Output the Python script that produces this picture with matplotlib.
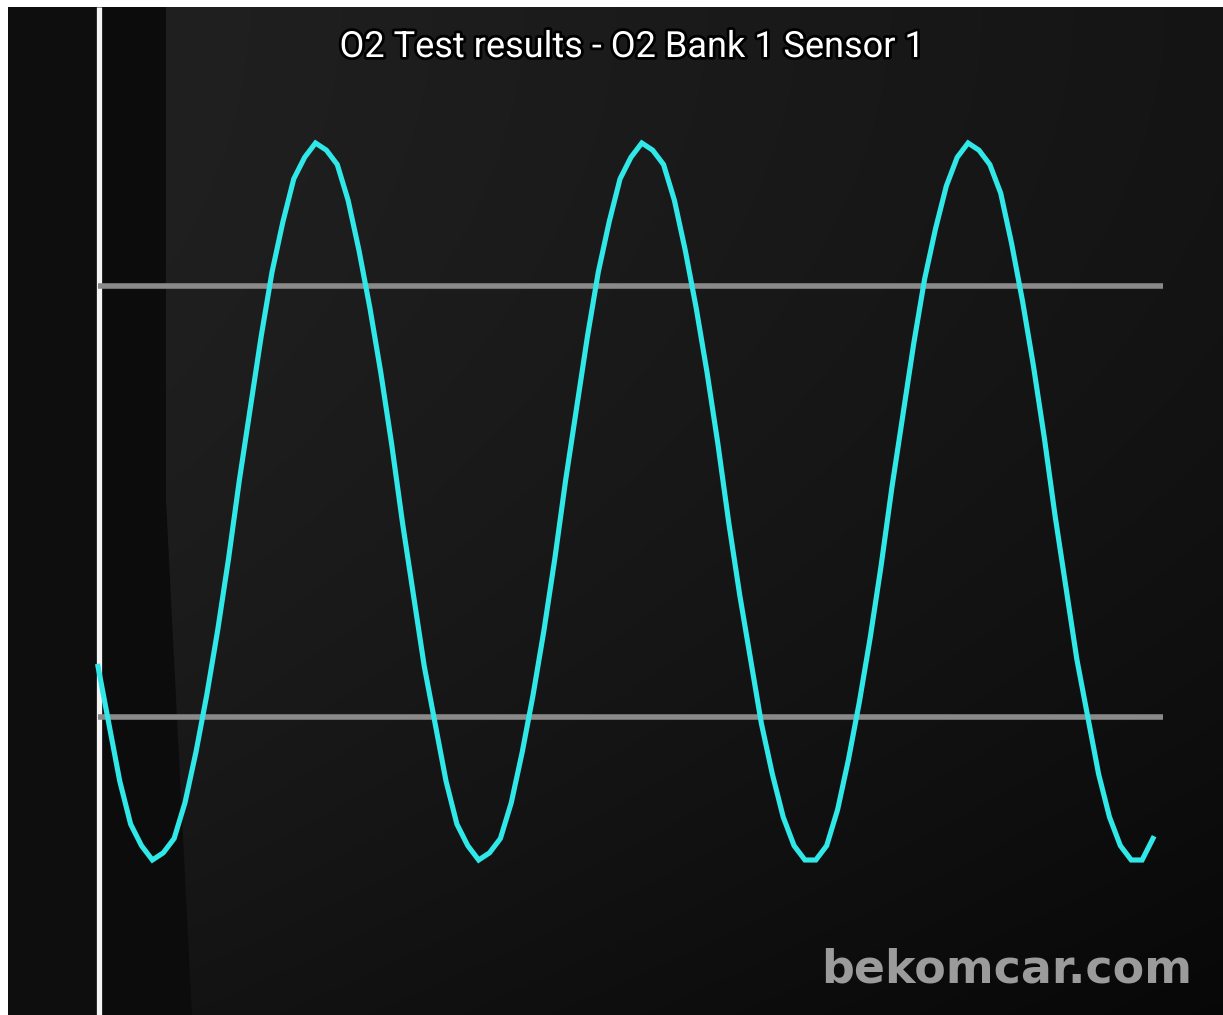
import numpy as np
import matplotlib
matplotlib.use("Agg")
import matplotlib.pyplot as plt
import matplotlib.patheffects as pe
from matplotlib.patches import Polygon, Rectangle

# ---- data (O2 sensor voltage) ----
sample_index = list(range(98))
voltage = [
    0.27, 0.19, 0.11, 0.05, 0.02, 0.00, 0.01, 0.03, 0.08, 0.15,
    0.23, 0.32, 0.42, 0.53, 0.63, 0.73, 0.82, 0.89, 0.95, 0.98,
    1.00, 0.99, 0.97, 0.92, 0.85, 0.77, 0.68, 0.58, 0.47, 0.37,
    0.27, 0.19, 0.11, 0.05, 0.02, 0.00, 0.01, 0.03, 0.08, 0.15,
    0.23, 0.32, 0.42, 0.53, 0.63, 0.73, 0.82, 0.89, 0.95, 0.98,
    1.00, 0.99, 0.97, 0.92, 0.85, 0.77, 0.68, 0.58, 0.47, 0.37,
    0.28, 0.19, 0.12, 0.06, 0.02, 0.00, 0.00, 0.02, 0.07, 0.14,
    0.22, 0.31, 0.41, 0.52, 0.62, 0.72, 0.81, 0.88, 0.94, 0.98,
    1.00, 0.99, 0.97, 0.93, 0.86, 0.78, 0.69, 0.59, 0.48, 0.38,
    0.28, 0.20, 0.12, 0.06, 0.02, 0.00, 0.00, 0.03,
]
threshold_levels = [0.2, 0.8]
title = "O2 Test results - O2 Bank 1 Sensor 1"
watermark = "bekomcar.com"

W, H = 1223, 1015
fig = plt.figure(figsize=(W / 100, H / 100), dpi=100)
fig.patch.set_facecolor("white")

# ---- background axes in pixel coordinates ----
bg = fig.add_axes([0, 0, 1, 1])
bg.set_xlim(0, W)
bg.set_ylim(H, 0)
bg.axis("off")

xx, yy = np.meshgrid(np.arange(W), np.arange(H))
val = 0.125 - 0.045 * np.clip(xx - 170, 0, None) / 1050 - 0.05 * (yy / H) ** 2
img = np.dstack([val, val, val])
bg.imshow(img, extent=(0, W, H, 0), aspect="auto", zorder=0, interpolation="bilinear")

# dark strips on the left
bg.add_patch(Rectangle((0, 0), 97, H, color="#0e0e0e", zorder=1, lw=0))
bg.add_patch(Polygon([(100, 0), (166, 0), (166, 500), (192, H), (100, H)],
                     closed=True, color="#0c0c0c", zorder=1, lw=0))
# white margins (top and left)
bg.add_patch(Rectangle((0, 0), W, 7, color="white", zorder=2, lw=0))
bg.add_patch(Rectangle((0, 0), 8, H, color="white", zorder=2, lw=0))
# white vertical cursor line
bg.plot([98.5, 98.5], [7, H], color="#f4f4f4", lw=3.8, zorder=3, solid_capstyle="butt")

# ---- data axes ----
step = 10.876
x0_pix, v0_pix, vscale = 98, 860, 717
ax = fig.add_axes([0, 0, 1, 1])
ax.patch.set_alpha(0)
ax.set_xlim(-x0_pix / step, (W - x0_pix) / step)
ax.set_ylim((v0_pix - H) / vscale, v0_pix / vscale)
ax.axis("off")

for lvl in threshold_levels:
    ax.plot([0, (1163 - x0_pix) / step], [lvl, lvl], color="#8a8a8a", lw=4.0,
            solid_capstyle="butt", zorder=2)
ax.plot(sample_index, voltage, color="#30e8e8", lw=3.7, zorder=3,
        solid_joinstyle="miter")

# ---- texts ----
fig.text(632 / W, 1 - 47 / H, title, ha="center", va="center", color="white",
         fontsize=26, family="Roboto",
         path_effects=[pe.withStroke(linewidth=4, foreground="black")])
fig.text(1192 / W, 1 - 970 / H, watermark, ha="right", va="center",
         color="#9b9b9b", fontsize=33, family="DejaVu Sans", fontweight="bold")

fig.savefig("out.png", dpi=100)
